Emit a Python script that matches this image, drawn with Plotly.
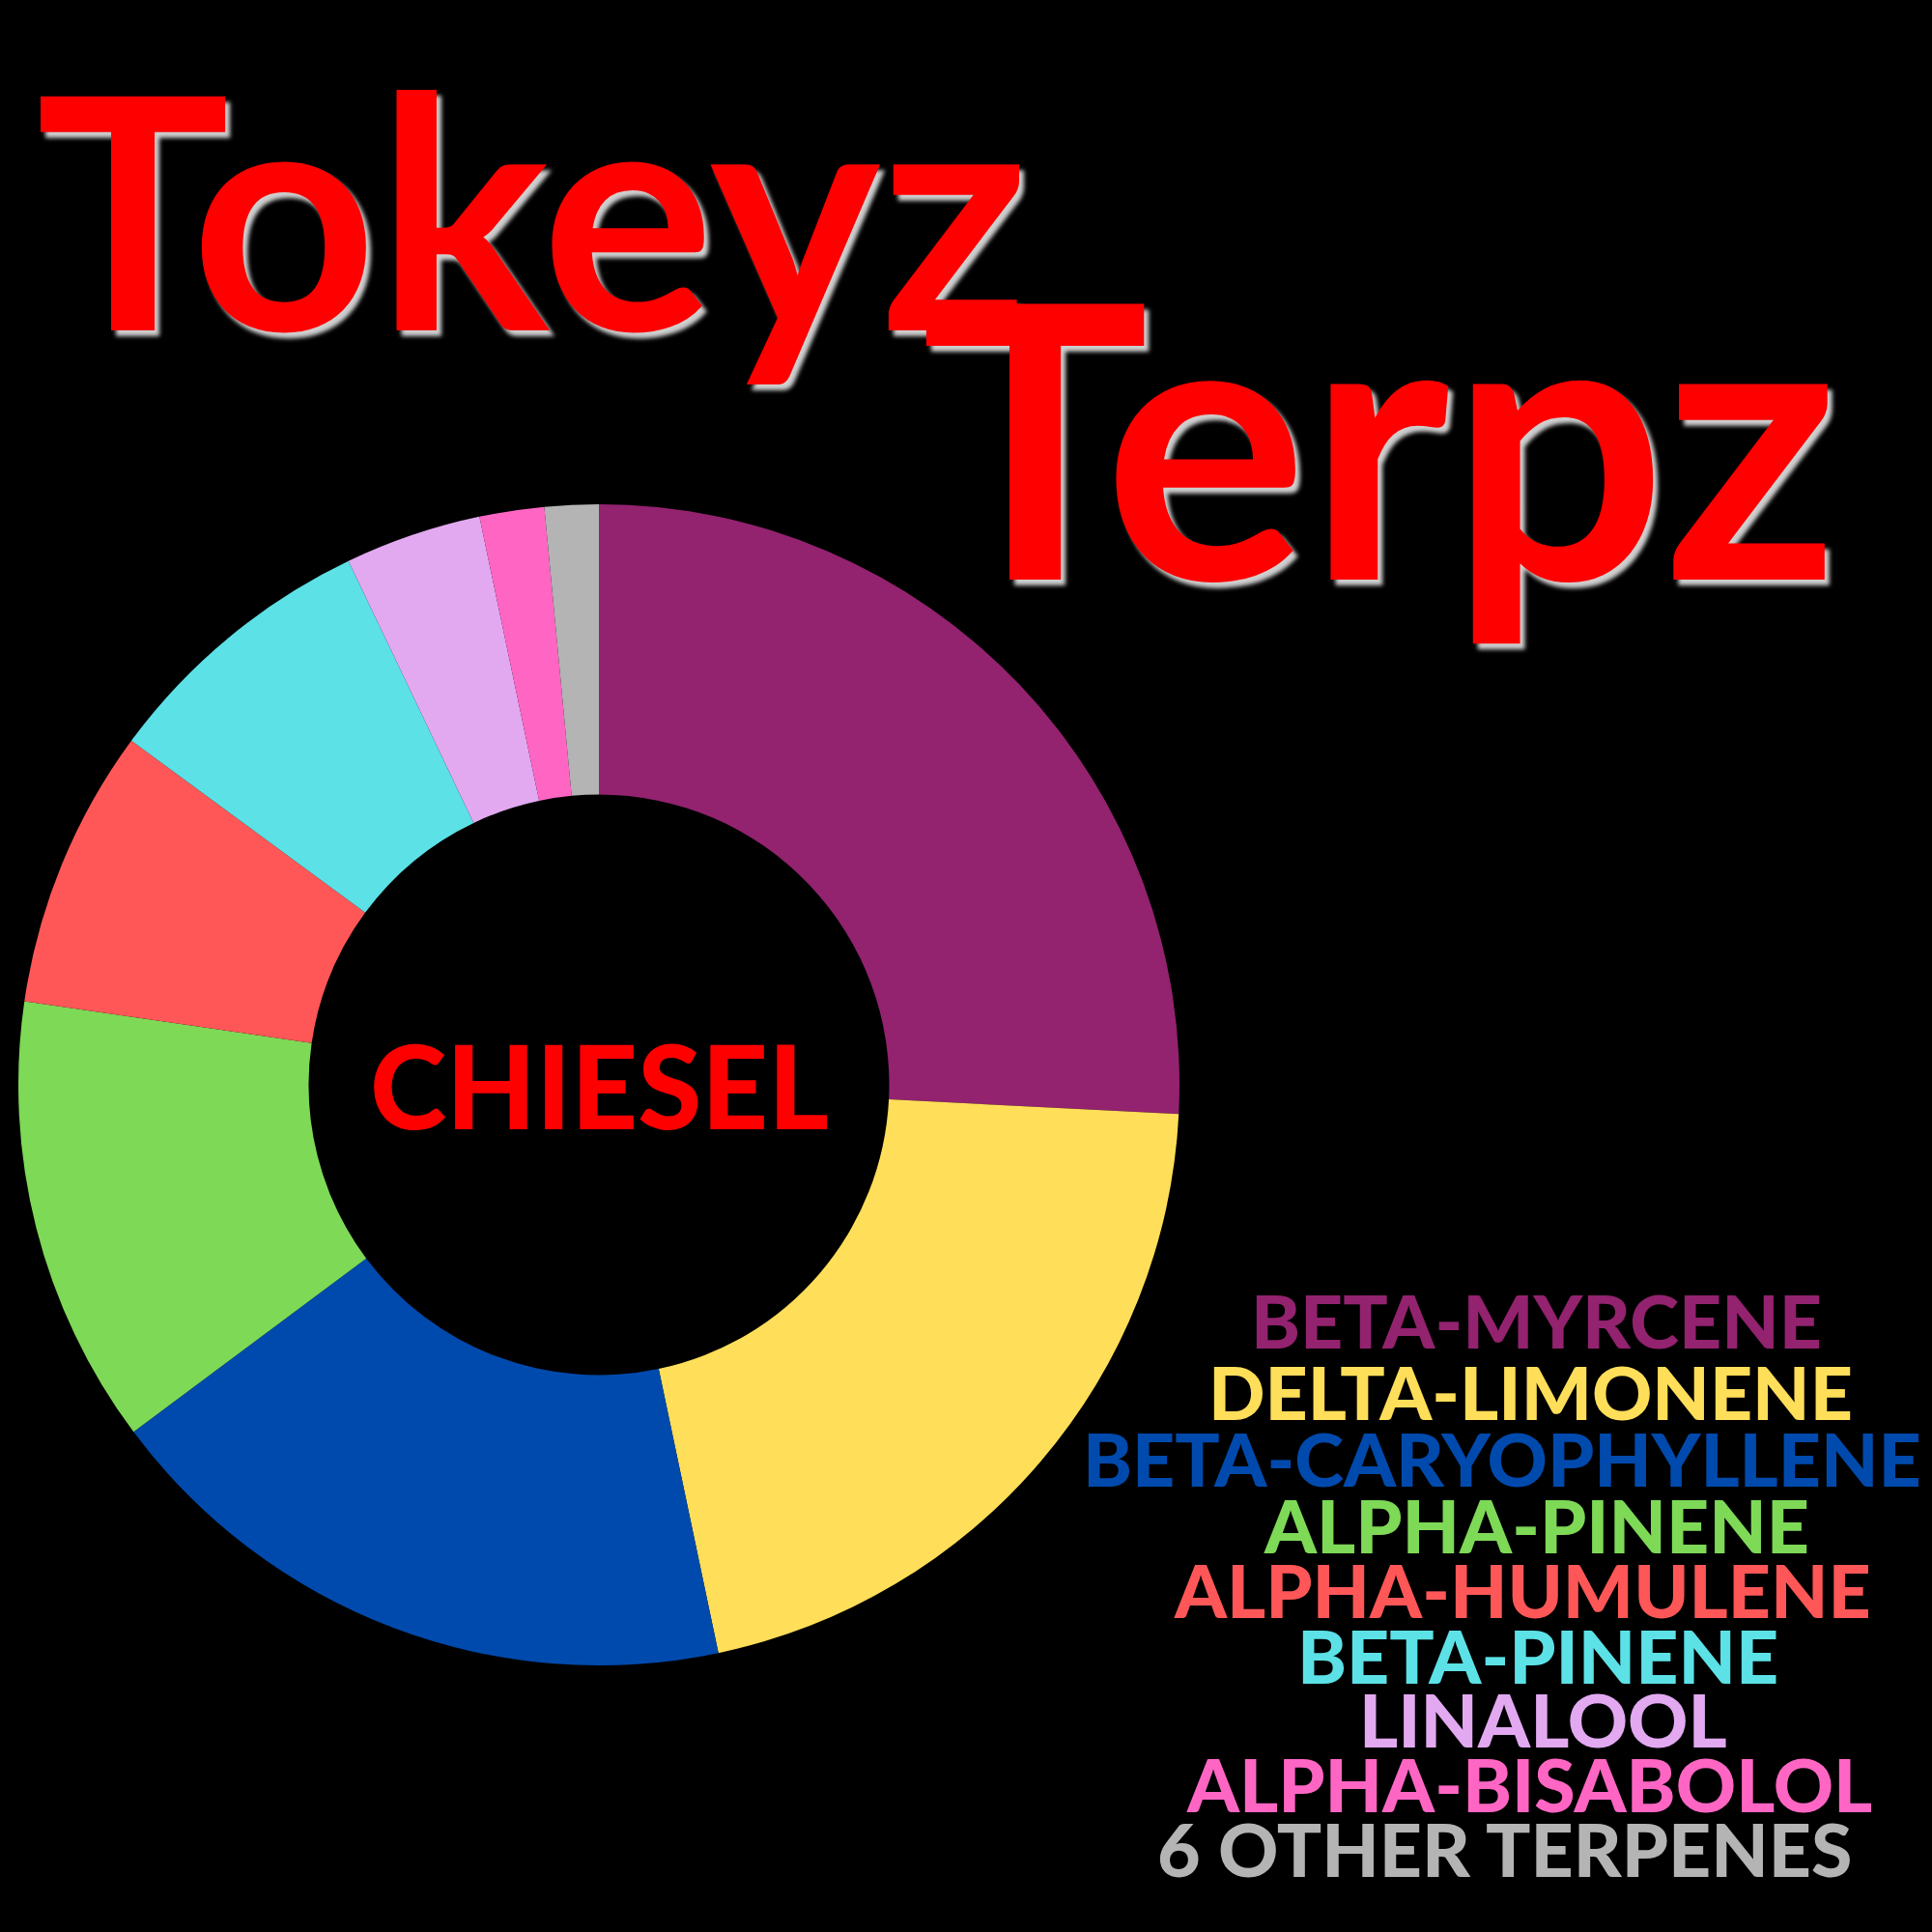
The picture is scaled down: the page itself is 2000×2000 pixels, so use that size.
import plotly.graph_objects as go

# ---- data ----
terpenes = ["BETA-MYRCENE", "DELTA-LIMONENE", "BETA-CARYOPHYLLENE", "ALPHA-PINENE",
            "ALPHA-HUMULENE", "BETA-PINENE", "LINALOOL", "ALPHA-BISABOLOL",
            "6 OTHER TERPENES"]
shares = [25.8, 20.9, 18.1, 12.5, 7.8, 7.8, 3.8, 1.8, 1.5]
colors = ["#93226F", "#FFDE59", "#004AAD", "#7ED957", "#FF5757",
          "#5CE1E6", "#E2A9F1", "#FF66C4", "#B4B4B4"]
strain = "CHIESEL"
title_words = ["Tokeyz", "Terpz"]

W = H = 2000

def px(x):
    return x / W

def py(y):
    return 1 - y / H

# pie geometry (pixels in the 2000x2000 canvas)
cx, cy, r = 620, 1123, 601

fig = go.Figure()
fig.add_trace(go.Pie(
    labels=terpenes,
    values=shares,
    marker=dict(colors=colors, line=dict(width=0)),
    hole=0.5,
    sort=False,
    direction="clockwise",
    rotation=0,
    textinfo="none",
    hoverinfo="label+percent",
    showlegend=False,
    domain=dict(x=[px(cx - r), px(cx + r)], y=[py(cy + r), py(cy - r)]),
))

annotations = []
# centre label
annotations.append(dict(
    x=px(cx), y=py(cy), xref="paper", yref="paper", text=strain, showarrow=False,
    xanchor="center", yanchor="middle",
    font=dict(family="Lato", size=120, color="#FF0000", weight=900),
))

# legend lines
label_x = [1590, 1584, 1555, 1590, 1576, 1592, 1597, 1583, 1557]
label_y = [1366, 1440, 1509, 1578, 1645, 1713, 1779, 1846, 1913]
for name, col, lx, ly in zip(terpenes, colors, label_x, label_y):
    annotations.append(dict(
        x=px(lx), y=py(ly), xref="paper", yref="paper", text=name, showarrow=False,
        xanchor="center", yanchor="middle",
        font=dict(family="Lato", size=77, color=col, weight=900),
    ))

# title words
title_pos = [(551, 212), (1428, 447)]
title_size = [335, 395]
for word, (tx, ty), sz in zip(title_words, title_pos, title_size):
    annotations.append(dict(
        x=px(tx), y=py(ty), xref="paper", yref="paper", text=word, showarrow=False,
        xanchor="center", yanchor="middle",
        font=dict(family="Lato", size=sz, color="#FF0000", weight=700,
                  shadow="5px 6px 4px #cfcfcf"),
    ))

fig.update_layout(
    width=W, height=H,
    margin=dict(l=0, r=0, t=0, b=0),
    paper_bgcolor="#000000",
    plot_bgcolor="#000000",
    annotations=annotations,
)

fig.write_html(
    "out.html",
    config={"displayModeBar": False},
    post_script="document.body.style.margin='0';document.body.style.background='#000';",
)
